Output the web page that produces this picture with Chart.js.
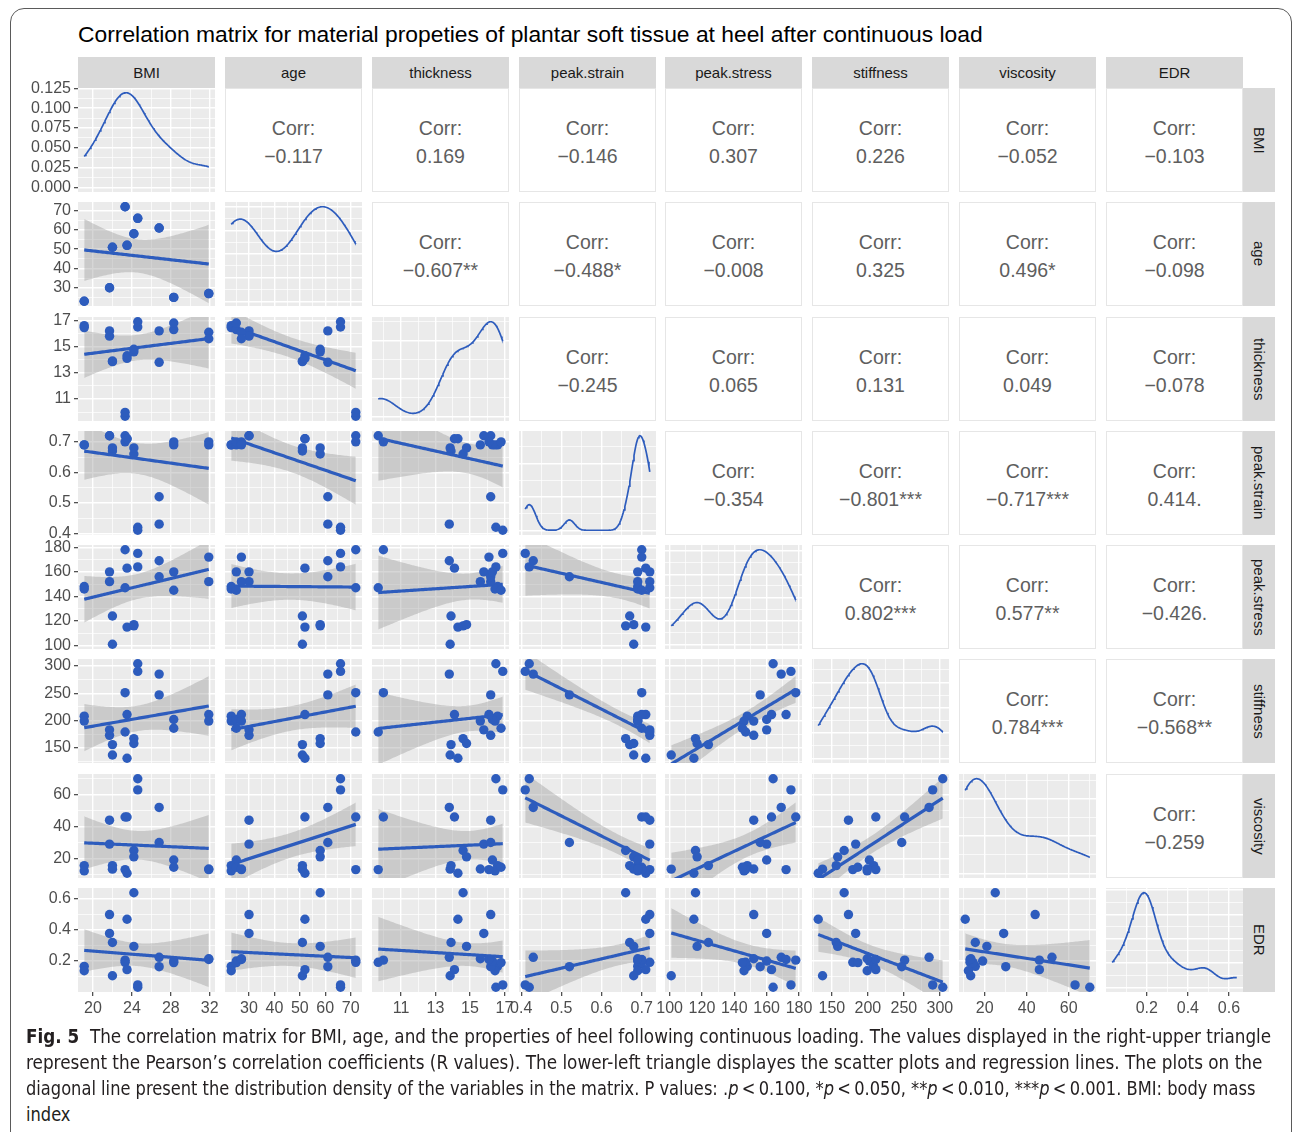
<!DOCTYPE html>
<html>
<head>
<meta charset="utf-8">
<script src="https://cdn.jsdelivr.net/npm/chart.js@4.4.1/dist/chart.umd.min.js"></script>
<style>
html,body{margin:0;padding:0;background:#fff;}
body{width:1292px;height:1132px;position:relative;overflow:hidden;font-family:"Liberation Sans",Arial,Helvetica,sans-serif;}
.frame{position:absolute;left:10px;top:8px;width:1282px;height:1200px;border:1.5px solid #5a5a5a;border-radius:14px;box-sizing:border-box;}
.title{position:absolute;left:78px;top:21px;font-size:22.5px;line-height:28px;color:#000;white-space:nowrap;transform-origin:left center;}
.strip-top{position:absolute;background:#D9D9D9;color:#1A1A1A;font-size:15px;display:flex;align-items:center;justify-content:center;}
.strip-right{position:absolute;background:#D9D9D9;color:#1A1A1A;font-size:15px;display:flex;align-items:center;justify-content:center;}
.strip-right span{writing-mode:vertical-rl;}
.upper{position:absolute;background:#fff;border:1px solid #E6E6E6;box-sizing:border-box;display:flex;flex-direction:column;align-items:center;justify-content:center;padding-top:3px;color:#5E5E5E;font-size:19.5px;line-height:28px;}
canvas{position:absolute;}
.caption{position:absolute;left:26px;font-family:"Liberation Sans Narrow","DejaVu Sans Condensed","Liberation Sans",sans-serif;font-size:20px;line-height:26px;color:#231F20;white-space:nowrap;transform-origin:left center;}
</style>
</head>
<body>
<div class="frame"></div>
<div class="title" id="title">Correlation matrix for material propeties of plantar soft tissue at heel after continuous load</div>
<div id="grid"></div>
<div class="caption" id="cap1" style="top:1023px"><b>Fig. 5</b>&nbsp; The correlation matrix for BMI, age, and the properties of heel following continuous loading. The values displayed in the right-upper triangle</div>
<div class="caption" id="cap2" style="top:1049px">represent the Pearson’s correlation coefficients (R values). The lower-left triangle displayes the scatter plots and regression lines. The plots on the</div>
<div class="caption" id="cap3" style="top:1075px">diagonal line present the distribution density of the variables in the matrix. P values: .<i>p</i>&thinsp;&lt;&thinsp;0.100, *<i>p</i>&thinsp;&lt;&thinsp;0.050, **<i>p</i>&thinsp;&lt;&thinsp;0.010, ***<i>p</i>&thinsp;&lt;&thinsp;0.001. BMI: body mass</div>
<div class="caption" id="cap4" style="top:1101px">index</div>
<script>
// ---------------- data (one value per heel) ----------------
const varNames   = ['BMI','age','thickness','peak.strain','peak.stress','stiffness','viscosity','EDR'];
const BMI        = [19.1,19.1,21.7,21.7,22.0,22.0,23.3,23.3,23.5,23.5,24.2,24.2,24.6,24.6,26.8,26.8,28.3,28.3,31.9,31.9];
const age        = [23,23,30,30,51,51,72,72,52,52,58,58,66,66,61,61,25,25,27,27];
const thickness  = [16.6,16.45,16.2,15.8,13.9,13.85,9.68,9.98,14.3,14.1,14.6,14.8,16.5,16.9,16.2,13.8,16.3,16.8,16.1,15.6];
const peakStrain = [0.69,0.69,0.72,0.72,0.67,0.68,0.72,0.70,0.71,0.71,0.66,0.68,0.42,0.41,0.52,0.43,0.69,0.70,0.70,0.69];
const peakStress = [148,146,152,160,124,101,147,178,115,163,116,117,164,175,156,169,160,145,172,152];
const stiffness  = [208,199,173,183,156,137,179,251,131,211,167,158,304,290,247,285,202,186,211,199];
const viscosity  = [15.5,12.2,44,29,15.5,13.3,13,46,10.7,46,25,21,70,63,30,52,19,14.5,13,13.4];
const EDR        = [0.166,0.138,0.498,0.377,0.319,0.106,0.192,0.206,0.468,0.145,0.638,0.294,0.032,0.047,0.164,0.224,0.20,0.19,0.21,0.215];

// tick labels of each variable's axis
const ticksBMI        = [20,24,28,32];
const ticksAge        = [30,40,50,60,70];
const ticksThickness  = [11,13,15,17];
const ticksStrain     = [0.4,0.5,0.6,0.7];
const ticksStress     = [100,120,140,160,180];
const ticksStiffness  = [150,200,250,300];
const ticksViscosity  = [20,40,60];
const ticksEDR        = [0.2,0.4,0.6];
const ticksDensityBMI = [0,0.025,0.05,0.075,0.1,0.125];

// correlation labels, upper triangle, row by row
const corrRow0 = ['−0.117','0.169','−0.146','0.307','0.226','−0.052','−0.103'];
const corrRow1 = ['−0.607**','−0.488*','−0.008','0.325','0.496*','−0.098'];
const corrRow2 = ['−0.245','0.065','0.131','0.049','−0.078'];
const corrRow3 = ['−0.354','−0.801***','−0.717***','0.414.'];
const corrRow4 = ['0.802***','0.577**','−0.426.'];
const corrRow5 = ['0.784***','−0.568**'];
const corrRow6 = ['−0.259'];

// ---------------- assembly ----------------
const vars   = [BMI, age, thickness, peakStrain, peakStress, stiffness, viscosity, EDR];
const majors = [ticksBMI, ticksAge, ticksThickness, ticksStrain, ticksStress, ticksStiffness, ticksViscosity, ticksEDR];
const decimals = [0,0,0,1,0,0,0,1];
const corrRows = [corrRow0, corrRow1, corrRow2, corrRow3, corrRow4, corrRow5, corrRow6];
const T975_DF18 = 2.100922; // Student t quantile used by the lm confidence band (n = 20)

const BLUE = '#2D5CBD';
const X0 = 78, XP = 146.86, PW = 137, Y0 = 88, YP = 114.29, PH = 104, M = 20;
const colX = j => Math.round(X0 + j * XP);
const rowY = i => Math.round(Y0 + i * YP);

function mean(a){ return a.reduce((s,v)=>s+v,0)/a.length; }
function sdev(a){ const m = mean(a); return Math.sqrt(a.reduce((s,v)=>s+(v-m)*(v-m),0)/(a.length-1)); }
function quant7(a,p){ const s=[...a].sort((x,y)=>x-y); const h=(s.length-1)*p; const lo=Math.floor(h); const hi=Math.min(lo+1,s.length-1); return s[lo]+(h-lo)*(s[hi]-s[lo]); }
function expanded(a){ const mn=Math.min(...a), mx=Math.max(...a), pad=0.05*(mx-mn); return [mn-pad, mx+pad]; }

// kernel density estimate (gaussian kernel, bw.nrd0) over the data range
function densityOf(a){
  const n=a.length;
  const lo=Math.min(sdev(a),(quant7(a,.75)-quant7(a,.25))/1.34);
  const bw=0.9*lo*Math.pow(n,-0.2);
  const mn=Math.min(...a), mx=Math.max(...a), pts=[];
  for(let k=0;k<=150;k++){
    const x=mn+(mx-mn)*k/150; let s=0;
    for(const v of a){ const z=(x-v)/bw; s+=Math.exp(-0.5*z*z); }
    pts.push({x, y:s/(n*bw*Math.sqrt(2*Math.PI))});
  }
  return pts;
}
// least-squares fit with 95% confidence band
function lmFit(xs, ys){
  const n=xs.length, mx=mean(xs), my=mean(ys);
  let sxx=0, sxy=0; for(let k=0;k<n;k++){ sxx+=(xs[k]-mx)**2; sxy+=(xs[k]-mx)*(ys[k]-my); }
  const b=sxy/sxx, a=my-b*mx;
  let sse=0; for(let k=0;k<n;k++){ sse+=(ys[k]-a-b*xs[k])**2; }
  const s=Math.sqrt(sse/(n-2));
  const x0=Math.min(...xs), x1=Math.max(...xs);
  const line=[], lower=[], upper=[];
  for(let k=0;k<=80;k++){
    const x=x0+(x1-x0)*k/80, f=a+b*x, se=s*Math.sqrt(1/n+(x-mx)**2/sxx);
    line.push({x,y:f}); lower.push({x,y:f-T975_DF18*se}); upper.push({x,y:f+T975_DF18*se});
  }
  return {line, lower, upper};
}
function gridTicks(maj, range){
  const step = maj.length>1 ? maj[1]-maj[0] : 1;
  const all = [];
  const tol = (range[1]-range[0])*0.012;
  maj.forEach(v=>{ if(v>=range[0]-tol && v<=range[1]+tol) all.push({v, major:true}); });
  const mids = [maj[0]-step/2];
  for(let k=0;k<maj.length-1;k++) mids.push((maj[k]+maj[k+1])/2);
  mids.push(maj[maj.length-1]+step/2);
  mids.forEach(v=>{ if(v>range[0] && v<range[1]) all.push({v, major:false}); });
  return all.sort((p,q)=>p.v-q.v);
}
function niceTicks(range){
  const raw=(range[1]-range[0])/5, mag=Math.pow(10,Math.floor(Math.log10(raw)));
  let step=mag; for(const c of [1,2,2.5,5,10]){ if(c*mag>=raw){ step=c*mag; break; } }
  const out=[]; for(let v=Math.ceil(range[0]/step)*step; v<=range[1]; v+=step) out.push(+v.toFixed(10));
  return out;
}

const bgPlugin = { id:'panelBg', beforeDraw(chart){ const {ctx, chartArea:a}=chart; ctx.save(); ctx.fillStyle='#EBEBEB'; ctx.fillRect(a.left,a.top,a.right-a.left,a.bottom-a.top); ctx.restore(); } };

function axisCfg(dir, range, gt, show, size, dec){
  const isMajor = v => gt.some(t=>t.major && Math.abs(t.v-v) < (range[1]-range[0])*1e-6);
  return {
    type:'linear', min:range[0], max:range[1],
    afterBuildTicks: s => { s.ticks = gt.map(t=>({value:t.v})); },
    afterFit: s => { if(dir==='x') s.height=size; else s.width=size; },
    border:{display:false},
    grid:{
      color:'#FFFFFF',
      lineWidth: c => (c.tick && isMajor(c.tick.value)) ? 1.4 : 0.7,
      drawTicks: show, tickLength:4, tickWidth:1.1,
      tickColor: c => (c.tick && isMajor(c.tick.value)) ? '#333333' : 'rgba(0,0,0,0)'
    },
    ticks:{
      display: show, autoSkip:false, maxRotation:0, minRotation:0, padding:3,
      color:'#4D4D4D', font:{family:'Liberation Sans', size:16},
      callback: v => isMajor(v) ? v.toFixed(dec) : ''
    }
  };
}

const root = document.getElementById('grid');
function addDiv(cls, x, y, w, h, html){
  const d=document.createElement('div'); d.className=cls;
  Object.assign(d.style,{left:x+'px',top:y+'px',width:w+'px',height:h+'px'});
  d.innerHTML=html; root.appendChild(d); return d;
}

// strips
for(let j=0;j<8;j++) addDiv('strip-top', colX(j), 57, PW, 31, varNames[j]);
for(let i=0;i<8;i++) addDiv('strip-right', 1243, rowY(i), 32, PH, '<span>'+varNames[i]+'</span>');

const ranges = vars.map(expanded);
for(let i=0;i<8;i++){
  for(let j=0;j<8;j++){
    const px=colX(j), py=rowY(i);
    if(i<j){
      addDiv('upper', px, py, PW, PH, '<div>Corr:</div><div>'+corrRows[i][j-i-1]+'</div>');
      continue;
    }
    const yW = j===0 ? 78 : 0, xH = i===7 ? 30 : 0;
    const cv=document.createElement('canvas');
    cv.width=PW+2*M+yW; cv.height=PH+2*M+xH;
    Object.assign(cv.style,{left:(px-M-yW)+'px', top:(py-M)+'px', width:cv.width+'px', height:cv.height+'px'});
    root.appendChild(cv);

    const xr = ranges[j], xgt = gridTicks(majors[j], xr);
    let yr, ygt, ydec, datasets;
    if(i===j){
      const dens = densityOf(vars[i]);
      const dmax = Math.max(...dens.map(p=>p.y));
      yr = [-0.05*dmax, 1.05*dmax];
      ygt = gridTicks(i===0 ? ticksDensityBMI : niceTicks(yr), yr);
      ydec = 3;
      datasets = [{data:dens, showLine:true, borderColor:BLUE, borderWidth:1.7, pointRadius:0, fill:false, clip:0, tension:0}];
    } else {
      yr = ranges[i]; ygt = gridTicks(majors[i], yr); ydec = decimals[i];
      const pts = vars[j].map((x,k)=>({x, y:vars[i][k]}));
      const fit = lmFit(vars[j], vars[i]);
      datasets = [
        {data:pts, showLine:false, pointRadius:4.7, pointBackgroundColor:BLUE, pointBorderWidth:0, clip:0, order:0},
        {data:fit.line, showLine:true, borderColor:BLUE, borderWidth:3.2, pointRadius:0, fill:false, clip:0, order:1},
        {data:fit.lower, showLine:true, borderWidth:0, borderColor:'rgba(0,0,0,0)', pointRadius:0, fill:false, clip:0, order:3},
        {data:fit.upper, showLine:true, borderWidth:0, borderColor:'rgba(0,0,0,0)', pointRadius:0, fill:'-1', backgroundColor:'rgba(153,153,153,0.4)', clip:0, order:2}
      ];
    }
    new Chart(cv.getContext('2d'), {
      type:'scatter',
      data:{datasets},
      options:{
        responsive:false, animation:false, devicePixelRatio:1, events:[],
        layout:{padding:{left:M,right:M,top:M,bottom:M}},
        plugins:{legend:{display:false}, tooltip:{enabled:false}},
        scales:{
          x: axisCfg('x', xr, xgt, i===7, xH, decimals[j]),
          y: axisCfg('y', yr, ygt, j===0, yW, ydec)
        }
      },
      plugins:[bgPlugin]
    });
  }
}

// fit title and caption lines to the reference widths
function fitWidth(id, target){ const el=document.getElementById(id); const w=el.scrollWidth; const s=target/w; el.style.transform='scaleX('+s+')'; return s; }
fitWidth('title', 905);
fitWidth('cap1', 1245);
fitWidth('cap2', 1236);
const s3 = fitWidth('cap3', 1229);
document.getElementById('cap4').style.transform='scaleX('+s3+')';
</script>
</body>
</html>
